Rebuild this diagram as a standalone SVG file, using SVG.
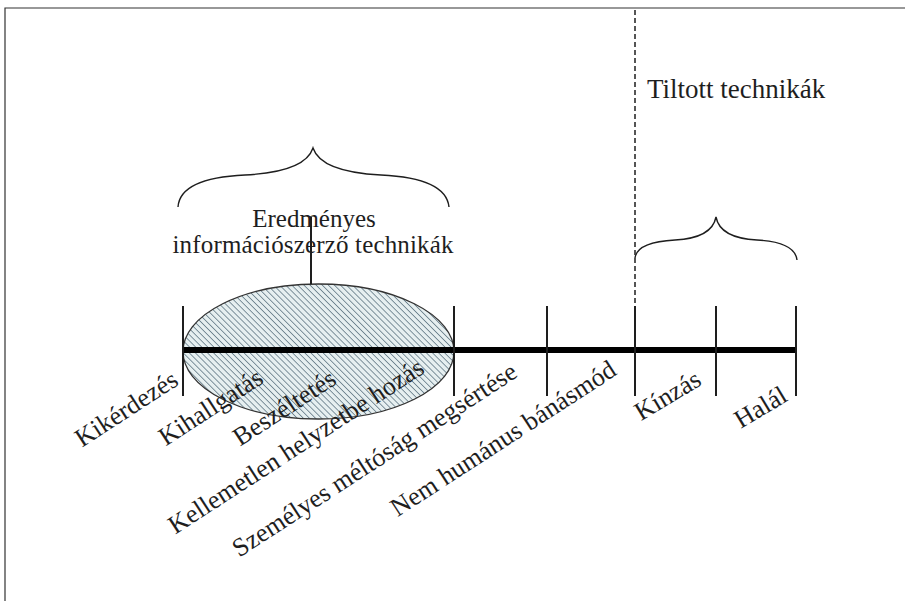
<svg xmlns="http://www.w3.org/2000/svg" width="905" height="601" viewBox="0 0 905 601">
<defs>
<pattern id="hatch" patternUnits="userSpaceOnUse" width="4.3" height="4.3" patternTransform="rotate(-45)">
<rect width="4.3" height="4.3" fill="#e6eff0"/>
<line x1="0" y1="0" x2="0" y2="4.3" stroke="#526a78" stroke-width="1.4"/>
</pattern>
<style>
.t{font-family:"Liberation Serif","Times New Roman",serif;fill:#1e1e1e}
.lab{font-size:26px}
.tick{stroke:#1e1e1e;stroke-width:2}
.brace{fill:none;stroke:#1e1e1e;stroke-width:1.4}
</style>
</defs>
<rect width="905" height="601" fill="#fff"/>
<g id="frame" stroke="#333" stroke-width="1.2" fill="none">
<path d="M5,601 V8 H905"/>
</g>
<g id="ellipse-group">
<ellipse cx="318.5" cy="351.5" rx="135.5" ry="67.5" fill="url(#hatch)" stroke="#333" stroke-width="1.3"/>
</g>
<g id="connectors">
<line x1="635" y1="10" x2="635" y2="306" stroke="#555" stroke-width="2" stroke-dasharray="5,3"/>
<line x1="183" y1="350" x2="796" y2="350" stroke="#000" stroke-width="6"/>
<line class="tick" x1="183" y1="306" x2="183" y2="396"/>
<line class="tick" x1="454" y1="306" x2="454" y2="396"/>
<line class="tick" x1="547" y1="306" x2="547" y2="396"/>
<line class="tick" x1="635" y1="306" x2="635" y2="396"/>
<line class="tick" x1="716" y1="306" x2="716" y2="396"/>
<line class="tick" x1="796" y1="306" x2="796" y2="396"/>
<line x1="311" y1="217" x2="311" y2="284" stroke="#1e1e1e" stroke-width="2"/>
<path class="brace" d="M178,207 Q180,178 245,175 Q305,172 313,148 Q321,172 381,175 Q446,178 449,207"/>
<path class="brace" d="M635,258 Q637,242 675,240 Q712,238 716,217 Q720,238 757,240 Q795,242 797,260"/>
</g>
<g id="title-tiltott">
<text class="t" x="647" y="98" font-size="27">Tiltott technikák</text>
</g>
<g id="title-eredmenyes">
<text class="t" x="314" y="227" font-size="25" text-anchor="middle">Eredményes</text>
<text class="t" x="313" y="253" font-size="25" text-anchor="middle" textLength="281">információszerző technikák</text>
</g>
<g id="label-kikerdezes"><text class="t lab" text-anchor="end" transform="translate(180,384) rotate(-33)">Kikérdezés</text></g>
<g id="label-kihallgatas"><text class="t lab" text-anchor="end" transform="translate(265,382) rotate(-33)">Kihallgatás</text></g>
<g id="label-beszeltetes"><text class="t lab" text-anchor="end" transform="translate(338,383) rotate(-33)">Beszéltetés</text></g>
<g id="label-kellemetlen"><text class="t lab" text-anchor="end" transform="translate(426,372) rotate(-33)">Kellemetlen helyzetbe hozás</text></g>
<g id="label-szemelyes"><text class="t lab" text-anchor="end" transform="translate(519,376) rotate(-33)">Személyes méltóság megsértése</text></g>
<g id="label-nemhumanus"><text class="t lab" text-anchor="end" transform="translate(618,374) rotate(-33)">Nem humánus bánásmód</text></g>
<g id="label-kinzas"><text class="t lab" text-anchor="end" transform="translate(703,384) rotate(-31)">Kínzás</text></g>
<g id="label-halal"><text class="t lab" text-anchor="end" transform="translate(789,400) rotate(-31)">Halál</text></g>
</svg>
